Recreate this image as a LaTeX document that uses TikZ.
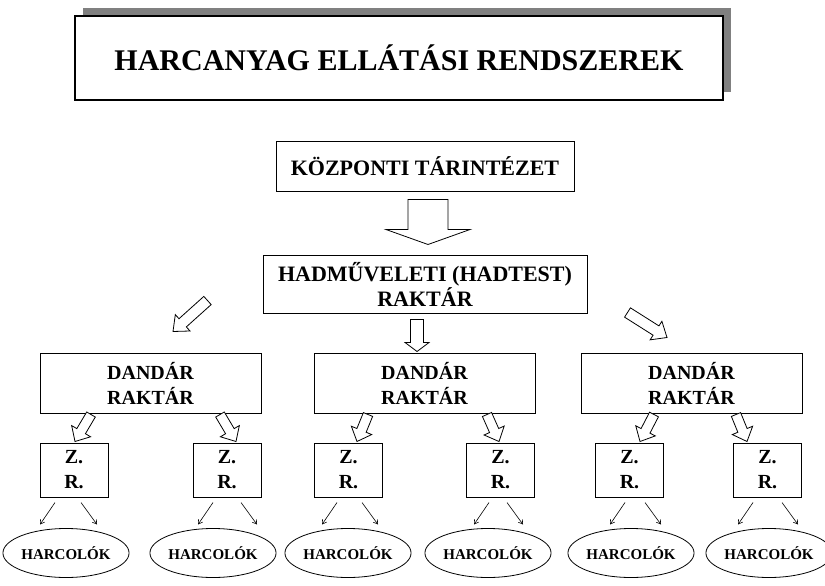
\documentclass[tikz,border=0pt]{standalone}
\usepackage{fontspec}
\setmainfont{Liberation Serif}
\usetikzlibrary{positioning, calc, shapes.geometric, shadows, arrows.meta}

% hollow block arrow: start, tip, half shaft, half head, head length
\newcommand{\hollowarrow}[5]{%
  \coordinate (ha-base) at ($(#2)!#5!(#1)$);
  \draw[fill=white, line width=0.8pt, line join=miter]
    ($(#1)!#3!90:(#2)$) -- ($(ha-base)!#3!90:(#2)$) -- ($(ha-base)!#4!90:(#2)$)
    -- (#2) -- ($(ha-base)!#4!-90:(#2)$) -- ($(ha-base)!#3!-90:(#2)$)
    -- ($(#1)!#3!-90:(#2)$) -- cycle;
}

\begin{document}
\begin{tikzpicture}[
  x=1pt, y=-1pt,
  font=\bfseries,
  titlebox/.style={
    draw, line width=1.2pt, fill=white, minimum width=648pt, minimum height=84pt,
    general shadow={fill=black!50, shadow xshift=8pt, shadow yshift=8pt},
    font=\fontsize{30}{36}\selectfont\bfseries
  },
  bigbox/.style={
    draw, line width=1pt, align=center, inner sep=0pt,
    font=\fontsize{22}{25}\selectfont\bfseries
  },
  store/.style={
    draw, line width=1pt, align=center, inner sep=0pt,
    minimum width=221pt, minimum height=60pt,
    font=\fontsize{20}{25}\selectfont\bfseries
  },
  zr/.style={
    draw, line width=1pt, align=center, inner sep=0pt,
    minimum width=68pt, minimum height=54pt,
    font=\fontsize{20}{25}\selectfont\bfseries
  },
  fighters/.style={
    ellipse, draw, line width=0.8pt, inner sep=0pt,
    minimum width=108pt, minimum height=49pt,
    font=\fontsize{15}{18}\selectfont\bfseries
  },
  thinarr/.style={-{Straight Barb[length=4pt, width=5pt]}, line width=0.6pt},
]
  \useasboundingbox (0,0) rectangle (825,586);

  % --- Title ---
  \node[titlebox] (title) at (399,58) {HARCANYAG ELLÁTÁSI RENDSZEREK};

  % --- Upper levels ---
  \node[bigbox, minimum width=298pt, minimum height=50pt] (kp) at (425,166) {KÖZPONTI TÁRINTÉZET};
  \node[bigbox, minimum width=324pt, minimum height=58pt] (hq) at (425,284) {HADMŰVELETI (HADTEST)\\RAKTÁR};

  \coordinate (kp-out) at ($(kp.south)+(3,8)$);
  \coordinate (hq-in) at ($(hq.north)+(3,-10)$);
  \hollowarrow{kp-out}{hq-in}{20pt}{42pt}{15pt}

  % --- Brigade stores ---
  \node[store] (dl) at (150.5,383) {DANDÁR\\RAKTÁR};
  \node[store] (dm) at (424.5,383) {DANDÁR\\RAKTÁR};
  \node[store] (dr) at (691.5,383) {DANDÁR\\RAKTÁR};

  \coordinate (hq-l) at ($(hq.south west)+(-55,-13)$);
  \coordinate (dl-in) at ($(dl.north)+(22.5,-21)$);
  \hollowarrow{hq-l}{dl-in}{5.5pt}{11pt}{13pt}
  \coordinate (hq-m) at ($(hq.south)+(-8,6)$);
  \coordinate (dm-in) at ($(dm.north)+(-7.5,-1)$);
  \hollowarrow{hq-m}{dm-in}{6.5pt}{12pt}{9pt}
  \coordinate (hq-r) at ($(hq.south east)+(40,-1)$);
  \coordinate (dr-in) at ($(dr.north)+(-24.5,-15)$);
  \hollowarrow{hq-r}{dr-in}{5.5pt}{11pt}{13pt}

  % --- Z.R. boxes ---
  \foreach \n/\x in {z1/74, z2/227, z3/348.5, z4/500.5, z5/629.5, z6/767.5}
    \node[zr] (\n) at (\x,470) {Z.\\R.};

  \foreach \src/\sx/\dst/\dx in {dl/-59.5/z1/1, dl/69.5/z2/9, dm/-56.5/z3/8.5,
                                 dm/62.5/z4/-1.5, dr/-37.5/z5/10.5, dr/44.5/z6/-20.5} {
    \coordinate (s) at ($(\src.south)+(\sx,1)$);
    \coordinate (t) at ($(\dst.north)+(\dx,-1)$);
    \hollowarrow{s}{t}{5pt}{11pt}{12pt}
  }

  % --- Fighting units ---
  \foreach \n/\x in {h1/66, h2/213, h3/348, h4/488, h5/631, h6/769}
    \node[fighters] (\n) at (\x,553) {HARCOLÓK};

  \foreach \z/\l/\r in {z1/-19/7, z2/-14/14, z3/-11.5/13.5, z4/-11.5/6.5, z5/-4.5/15.5, z6/-14.5/14.5} {
    \draw[thinarr] ($(\z.south)+(\l,5)$) -- ++(-15,22);
    \draw[thinarr] ($(\z.south)+(\r,5)$) -- ++(16,22);
  }

\end{tikzpicture}
\end{document}
